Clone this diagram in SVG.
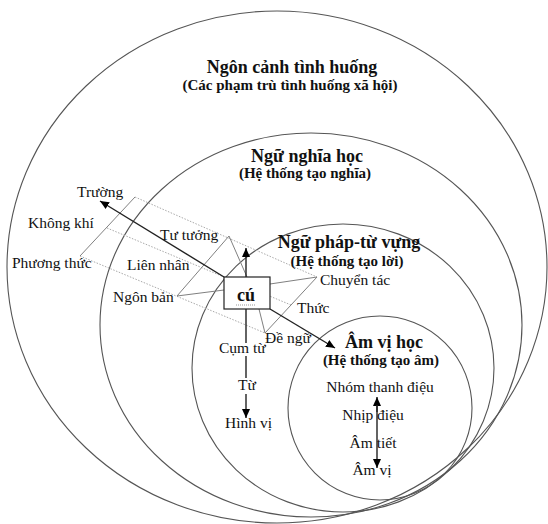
<svg xmlns="http://www.w3.org/2000/svg" width="548" height="524" viewBox="0 0 548 524">
<style>
.ring{fill:none;stroke:#555;stroke-width:1.1}
.t{font-family:"Liberation Serif","Times New Roman",serif;fill:#111}
.lab{font-size:15.5px}
.ttl{font-size:18px;font-weight:bold}
.sub{font-size:15px;font-weight:bold}
.g{stroke:#808080;stroke-width:1;fill:none}
.d{stroke:#aaa;stroke-width:1;stroke-dasharray:1.5 1.5;fill:none}
.a{stroke:#222;stroke-width:1.4;fill:none}
.m{text-anchor:middle}
</style>
<defs>
<marker id="ah" markerWidth="10" markerHeight="10" refX="9" refY="5" orient="auto" markerUnits="userSpaceOnUse">
<path d="M0,1 L9,5 L0,9 z" fill="#000"/>
</marker>
</defs>
<g id="rings">
<ellipse id="ring-context" class="ring" cx="277" cy="267" rx="270" ry="256"/>
<ellipse id="ring-semantics" class="ring" cx="311" cy="325" rx="211" ry="192"/>
<ellipse id="ring-lexicogrammar" class="ring" cx="343" cy="368" rx="151" ry="144"/>
<ellipse id="ring-phonology" class="ring" cx="380" cy="408" rx="92" ry="92"/>
</g>
<g id="connectors">
<line class="d" x1="135" y1="197" x2="317" y2="277"/>
<line class="d" x1="107" y1="228" x2="291" y2="305"/>
<line class="d" x1="80" y1="256" x2="265" y2="333"/>
<line class="g" x1="135" y1="197" x2="80" y2="256"/>
<line class="g" x1="229" y1="236" x2="177" y2="296"/>
<line class="g" x1="317" y1="277" x2="265" y2="333"/>
<line class="g" x1="229" y1="236" x2="247" y2="277"/>
<line class="g" x1="177" y1="296" x2="224" y2="290"/>
<line class="g" x1="317" y1="277" x2="270" y2="284"/>
<line class="g" x1="265" y1="333" x2="259" y2="309"/>
<line class="a" x1="224" y1="277" x2="100" y2="201" marker-end="url(#ah)"/>
<line class="a" x1="246" y1="277" x2="246" y2="248" marker-end="url(#ah)"/>
<line class="a" x1="270" y1="309" x2="335" y2="348" marker-end="url(#ah)"/>
<line class="a" x1="246" y1="309" x2="246" y2="343"/>
<line class="a" x1="246" y1="356" x2="246" y2="378"/>
<line class="a" x1="246" y1="394" x2="246" y2="418" marker-end="url(#ah)"/>
<line class="a" x1="377" y1="412" x2="377" y2="397" marker-end="url(#ah)"/>
<line class="a" x1="377" y1="405" x2="377" y2="440"/>
<line class="a" x1="377" y1="440" x2="377" y2="468" marker-end="url(#ah)"/>
</g>
<g id="node-context"><text class="t ttl m" x="292" y="73">Ngôn cảnh tình huống</text><text class="t sub m" x="290" y="90">(Các phạm trù tình huống xã hội)</text></g>
<g id="node-semantics"><text class="t ttl m" x="307" y="162">Ngữ nghĩa học</text><text class="t sub m" x="305" y="178">(Hệ thống tạo nghĩa)</text></g>
<g id="node-lexicogrammar"><text class="t ttl m" x="349" y="248">Ngữ pháp-từ vựng</text><text class="t sub m" x="347" y="266">(Hệ thống tạo lời)</text></g>
<g id="node-phonology"><text class="t ttl m" x="384" y="348">Âm vị học</text><text class="t sub m" x="381" y="365">(Hệ thống tạo âm)</text></g>
<g id="node-cu"><rect x="224" y="277" width="46" height="32" fill="#fff" stroke="#222" stroke-width="1.2"/><text class="t ttl m" x="246" y="301">cú</text><line x1="236" y1="305" x2="256" y2="305" stroke="#999" stroke-width="1" stroke-dasharray="1 1"/></g>
<g id="node-truong"><text class="t lab" x="77" y="197">Trường</text></g>
<g id="node-khongkhi"><text class="t lab" x="28" y="228">Không khí</text></g>
<g id="node-phuongthuc"><text class="t lab" x="12" y="268">Phương thức</text></g>
<g id="node-tutuong"><text class="t lab" x="160" y="240">Tư tưởng</text></g>
<g id="node-liennhan"><text class="t lab" x="127" y="270">Liên nhân</text></g>
<g id="node-ngonban"><text class="t lab" x="113" y="302">Ngôn bản</text></g>
<g id="node-chuyentac"><text class="t lab" x="320" y="285">Chuyển tác</text></g>
<g id="node-thuc"><text class="t lab" x="297" y="313">Thức</text></g>
<g id="node-dengu"><text class="t lab" x="265" y="343">Đề ngữ</text></g>
<g id="node-cumtu"><text class="t lab" x="219" y="353">Cụm từ</text></g>
<g id="node-tu"><text class="t lab" x="238" y="390">Từ</text></g>
<g id="node-hinhvi"><text class="t lab" x="225" y="428">Hình vị</text></g>
<g id="node-nhomthanhdieu"><text class="t lab m" x="380" y="392">Nhóm thanh điệu</text></g>
<g id="node-nhipdieu"><text class="t lab m" x="373" y="420">Nhịp điệu</text></g>
<g id="node-amtiet"><text class="t lab m" x="373" y="448">Âm tiết</text></g>
<g id="node-amvi"><text class="t lab m" x="372" y="475">Âm vị</text></g>
</svg>
